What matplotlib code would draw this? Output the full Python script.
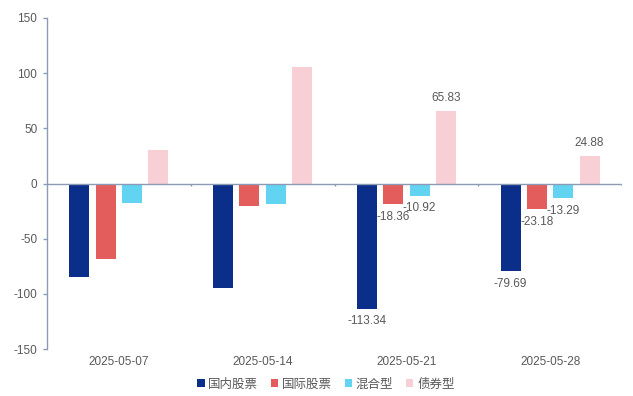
import matplotlib.pyplot as plt
import numpy as np

plt.rcParams['font.family'] = ['Liberation Sans', 'Noto Sans CJK SC', 'DejaVu Sans']
plt.rcParams['axes.unicode_minus'] = False

dates = ['2025-05-07', '2025-05-14', '2025-05-21', '2025-05-28']
series = ['国内股票', '国际股票', '混合型', '债券型']
domestic = [-85.1, -94.8, -113.34, -79.69]
intl = [-68.6, -20.8, -18.36, -23.18]
mixed = [-18.0, -19.0, -10.92, -13.29]
bond = [30.5, 106.0, 65.83, 24.88]
# only the last two weeks carry value labels in the source
labeled = [False, False, True, True]

colors = ['#0b2e8a', '#e35d5d', '#62d4f2', '#f7cfd4']
txt = '#595959'
axcol = '#8a9bb3'

fig = plt.figure(figsize=(6.33, 3.96), dpi=100)
ax = fig.add_axes([47 / 633, 1 - 349 / 396, 575 / 633, 331 / 396])

x = np.arange(len(dates))
w = 0.139
step = 0.183
vals = [domestic, intl, mixed, bond]
for i, (name, v, c) in enumerate(zip(series, vals, colors)):
    bars = ax.bar(x + (i - 1.5) * step, v, width=w, color=c, label=name)
    labs = [f'{val:.2f}' if lab else '' for val, lab in zip(v, labeled)]
    ax.bar_label(bars, labels=labs, padding=5, fontsize=8.5, color=txt)

ax.set_xlim(-0.5, len(dates) - 0.5)
ax.set_ylim(-150, 150)
ax.set_yticks([-150, -100, -50, 0, 50, 100, 150])
ax.set_xticks(x)
ax.set_xticklabels(dates)
ax.tick_params(axis='x', length=0, pad=5, labelsize=8.5, labelcolor=txt)
ax.tick_params(axis='y', length=3, width=1, color=axcol, pad=4, labelsize=8.5, labelcolor=txt)

for s in ['top', 'right', 'bottom']:
    ax.spines[s].set_visible(False)
ax.spines['left'].set_color(axcol)
ax.spines['left'].set_linewidth(1)
ax.axhline(0, color=axcol, lw=1)
# small category boundary ticks on the zero line
ax.vlines(x + 0.5, 0, -2.5, color=axcol, lw=1)

ax.legend(loc='upper center', bbox_to_anchor=(0.485, -0.055), ncol=4, frameon=False,
          fontsize=9, labelcolor=txt, handlelength=0.6, handleheight=0.6,
          handletextpad=0.3, columnspacing=1.0)

fig.savefig('out.png', dpi=100)
